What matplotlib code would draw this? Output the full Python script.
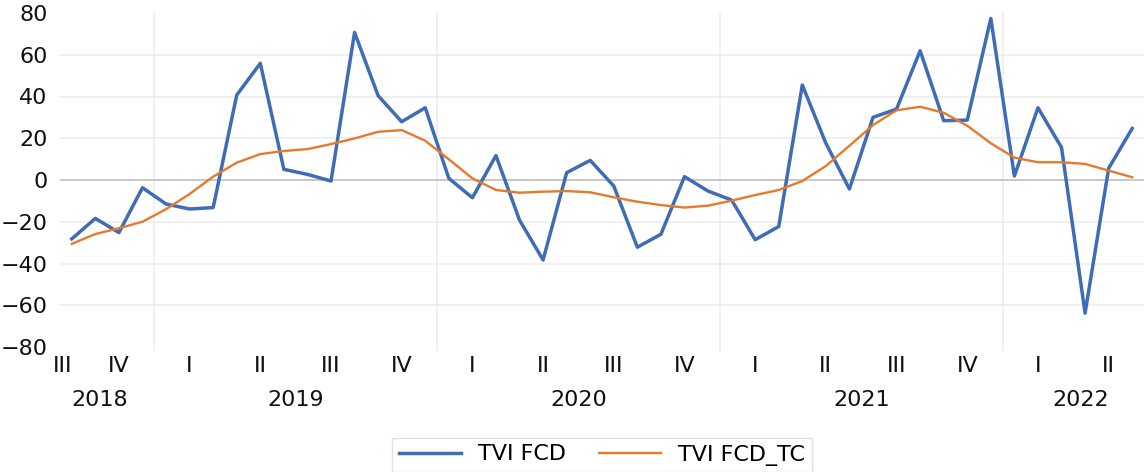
import numpy as np
import matplotlib
matplotlib.use("Agg")
import matplotlib.pyplot as plt

# monthly series, Sep 2018 .. Jun 2022
tvi_fcd = [-28.2, -18.4, -25.2, -3.7, -11.5, -13.9, -13.2, 40.7, 55.9, 5.1,
           2.7, -0.5, 70.7, 40.4, 27.9, 34.6, 0.8, -8.5, 11.7, -19.2,
           -38.3, 3.5, 9.4, -2.9, -32.2, -26.0, 1.6, -5.3, -9.6, -28.6,
           -22.3, 45.5, 17.6, -4.3, 30.0, 34.0, 61.9, 28.4, 28.7, 77.4,
           1.9, 34.6, 15.6, -63.8, 5.6, 24.7]
tvi_fcd_tc = [-30.6, -25.9, -23.1, -20.0, -14.0, -6.7, 1.6, 8.3, 12.4, 13.9,
              14.8, 17.2, 19.9, 23.1, 23.9, 18.8, 9.9, 0.8, -4.8, -6.1,
              -5.6, -5.3, -5.9, -8.3, -10.4, -12.0, -13.2, -12.3, -9.9, -7.2,
              -4.8, -0.5, 6.7, 16.4, 26.3, 33.4, 35.1, 32.2, 26.0, 17.6,
              10.7, 8.5, 8.5, 7.7, 4.5, 1.3]

quarters = ["III", "IV", "I", "II", "III", "IV", "I", "II", "III", "IV",
            "I", "II", "III", "IV", "I", "II"]
quarter_len = [1, 3, 3, 3, 3, 3, 3, 3, 3, 3, 3, 3, 3, 3, 3, 3]
years = ["2018", "2019", "2020", "2021", "2022"]
year_len = [4, 12, 12, 12, 6]

blue = "#3F6DB5"
orange = "#E57A2E"
fs = 16

x = np.arange(len(tvi_fcd))

fig = plt.figure(figsize=(11.46, 4.72), dpi=100)
ax = fig.add_axes([60 / 1146, 125 / 472, 1084 / 1146, 334 / 472])

ax.plot(x, tvi_fcd, color=blue, lw=2.5, label="TVI FCD", zorder=3)
ax.plot(x, tvi_fcd_tc, color=orange, lw=1.7, label="TVI FCD_TC", zorder=3)

ax.set_xlim(-0.5, len(x) - 0.5)
ax.set_ylim(-80, 80)
ax.set_yticks(np.arange(-80, 81, 20))
ax.tick_params(axis="y", labelsize=fs, length=0, pad=9, colors="#111111")
ax.set_xticks([])
for s in ax.spines.values():
    s.set_visible(False)

# horizontal gridlines (none at the limits)
for v in range(-60, 61, 20):
    if v == 0:
        ax.axhline(0, color="#BFBFBF", lw=1.2, zorder=1)
    else:
        ax.axhline(v, color="#EDEDED", lw=1.2, zorder=0)

# year separators
edges = np.cumsum(year_len)[:-1] - 0.5
ax.vlines(edges, -82, 80, color="#EDEDED", lw=1.2, zorder=0, clip_on=False)

# quarter labels
tr = ax.get_xaxis_transform()
start = 0
for q, n in zip(quarters, quarter_len):
    c = start + (n - 1) / 2
    if n == 1:
        c -= 0.38
    ax.text(c, -0.057, q, transform=tr, ha="center", va="center",
            fontsize=fs, color="#111111")
    start += n

# year labels
start = 0
year_shift = {"2018": -0.33, "2022": 0.33}
for y, n in zip(years, year_len):
    c = start + (n - 1) / 2 + year_shift.get(y, 0)
    ax.text(c, -0.160, y, transform=tr, ha="center", va="center",
            fontsize=fs, color="#111111")
    start += n

leg = fig.legend(loc="center", bbox_to_anchor=(602 / 1146, 1 - 455 / 472),
                 ncol=2, fontsize=fs, frameon=True, fancybox=False,
                 edgecolor="#D9D9D9", handlelength=2.8, handletextpad=0.75,
                 columnspacing=1.5, borderpad=0.3, borderaxespad=0)
leg.get_frame().set_linewidth(1.0)

fig.savefig("out.png", dpi=100, facecolor="white")
